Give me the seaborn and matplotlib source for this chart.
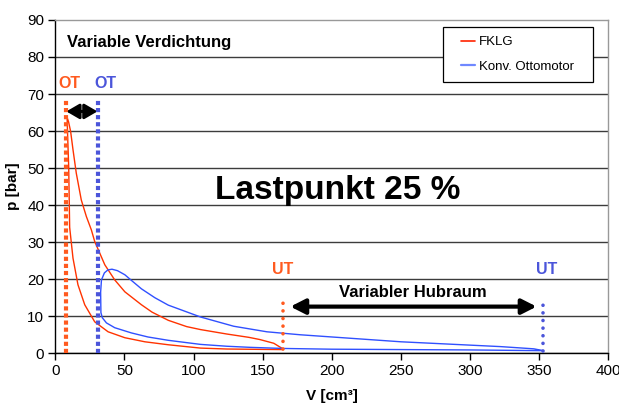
import matplotlib
matplotlib.use("Agg")
import matplotlib.pyplot as plt
from matplotlib.lines import Line2D
from matplotlib.patches import Rectangle
import seaborn as sns
import pandas as pd

# ---------------- data ----------------
# FKLG cycle (compression UT->OT, then expansion OT->UT)
fklg_V = [165, 150, 124, 105, 81.7, 64.8, 50.3, 38.2, 28.5, 21.3, 16.4, 12.8, 10.4,
          9.7, 9.0, 8.6, 8.7, 9.6, 11.1, 12.8, 15.2, 18.8, 22.5, 26.1, 28.5, 35.8,
          43.0, 50.3, 62.3, 70.0, 81.7, 95.0, 105, 124, 140, 148, 158, 165]
fklg_p = [1.0, 1.05, 1.15, 1.4, 2.3, 3.1, 4.2, 5.8, 8.5, 13.1, 18.5, 25.7, 34.0,
          50.4, 58.0, 63.0, 63.5, 62.5, 59.9, 55.0, 48.6, 41.4, 36.9, 33.3, 30.2, 23.9,
          19.8, 16.6, 13.1, 11.1, 8.9, 7.2, 6.4, 5.2, 4.3, 3.7, 2.7, 1.1]

# Konv. Ottomotor cycle
konv_V = [353, 300, 250, 200, 165, 141, 124, 105, 81.7, 67, 55, 43, 37.0, 34.0,
          33.0, 32.8, 33.4, 35.5, 38.0, 41.0, 45.0, 50.3, 55.3, 62.3, 72, 81.7, 105,
          129, 153, 177, 250, 322, 346, 353]
konv_p = [0.7, 0.9, 1.0, 1.1, 1.3, 1.6, 1.9, 2.4, 3.5, 4.4, 5.5, 6.9, 8.2, 9.6,
          11.0, 16.5, 19.8, 21.7, 22.5, 22.7, 22.3, 21.2, 19.6, 17.4, 15.0, 13.0, 9.8,
          7.3, 5.8, 5.0, 3.1, 1.8, 1.2, 0.7]

series_names = ["FKLG", "Konv. Ottomotor"]
ot_V = [7.5, 31.0]          # OT positions (FKLG, Konv.)
ot_p_top = 68.4
ut_V = [164.8, 353.0]       # UT positions (FKLG, Konv.)
ut_p = [[1.1, 15.3], [0.7, 14.9]]
y_ticks = [0, 10, 20, 30, 40, 50, 60, 70, 80, 90]
x_ticks = [0, 50, 100, 150, 200, 250, 300, 350, 400]

# ---------------- style ----------------
sns.set_style("white")
plt.rcParams["font.family"] = ["Liberation Sans", "DejaVu Sans"]
plt.rcParams["text.color"] = "black"
plt.rcParams["axes.labelcolor"] = "black"
plt.rcParams["xtick.color"] = "black"
plt.rcParams["ytick.color"] = "black"

red = "#FF3300"
blue = "#3050FF"
orange_dot = "#FF5A1F"
blue_dot = "#4B55DA"

fig = plt.figure(figsize=(6.19, 4.07), dpi=100)
ax = fig.add_axes([0.0893, 0.132, 0.8937, 0.819])

df_f = pd.DataFrame({"V": fklg_V, "p": fklg_p})
df_k = pd.DataFrame({"V": konv_V, "p": konv_p})
sns.lineplot(data=df_f, x="V", y="p", sort=False, estimator=None, color=red, lw=1.0, ax=ax, zorder=3)
sns.lineplot(data=df_k, x="V", y="p", sort=False, estimator=None, color=blue, lw=1.0, ax=ax, zorder=3)

# OT dotted lines
for v, c in zip(ot_V, [orange_dot, blue_dot]):
    ax.plot([v, v], [0, ot_p_top], color=c, lw=3.0, linestyle=(0, (1.0, 0.7)),
            dash_capstyle="butt", zorder=4)
# UT dotted lines
for v, pr, c in zip(ut_V, ut_p, [orange_dot, blue_dot]):
    ax.plot([v, v], pr, color=c, lw=2.6, linestyle=(0, (0.01, 2.1)),
            dash_capstyle="round", zorder=4)

ax.set_xlim(0, 400)
ax.set_ylim(0, 90)
ax.set_xticks(x_ticks)
ax.set_yticks(y_ticks)
ax.yaxis.grid(True, color="#3c3c3c", lw=1.0)
ax.xaxis.grid(False)
ax.yaxis.get_gridlines()[-1].set_visible(False)
for s in ["left", "bottom"]:
    ax.spines[s].set_color("black")
    ax.spines[s].set_linewidth(1.0)
for s in ["top", "right"]:
    ax.spines[s].set_color("#999999")
    ax.spines[s].set_linewidth(1.0)
ax.tick_params(axis="both", direction="out", length=5, width=1, color="black",
               labelcolor="black", labelsize=11, left=True, bottom=True, pad=3)

ax.set_xlabel("V [cm³]", fontsize=11, fontweight="bold", labelpad=8, color="black")
ax.set_ylabel("p [bar]", fontsize=11, fontweight="bold", labelpad=5, color="black")

# annotations
ax.text(8.5, 84, "Variable Verdichtung", fontsize=12, fontweight="bold", ha="left", va="center", color="black")
ax.text(204, 44, "Lastpunkt 25 %", fontsize=24, fontweight="bold", ha="center", va="center", color="black")
ax.text(10, 72.8, "OT", fontsize=11.5, fontweight="bold", color=orange_dot, ha="center", va="center")
ax.text(36.4, 72.8, "OT", fontsize=11.5, fontweight="bold", color=blue_dot, ha="center", va="center")
ax.text(164.6, 22.6, "UT", fontsize=11.5, fontweight="bold", color=orange_dot, ha="center", va="center")
ax.text(355, 22.6, "UT", fontsize=11.5, fontweight="bold", color=blue_dot, ha="center", va="center")
ax.text(258.5, 16.3, "Variabler Hubraum", fontsize=12, fontweight="bold", ha="center", va="center", color="black")

ax.annotate("", xy=(30.5, 65.3), xytext=(8.0, 65.3),
            arrowprops=dict(arrowstyle="<|-|>,head_length=0.55,head_width=0.32", lw=2.2,
                            color="black", shrinkA=0, shrinkB=0, mutation_scale=14), zorder=5)
ax.annotate("", xy=(348, 12.6), xytext=(170, 12.6),
            arrowprops=dict(arrowstyle="<|-|>,head_length=0.55,head_width=0.28", lw=3.0,
                            color="black", shrinkA=0, shrinkB=0, mutation_scale=16), zorder=5)

# legend
box = Rectangle((0.701, 0.814), 0.271, 0.165, transform=ax.transAxes, facecolor="white",
                edgecolor="black", lw=0.9, zorder=6)
ax.add_patch(box)
handles = [Line2D([], [], color="#FF2200", lw=1.2), Line2D([], [], color="#6F88FF", lw=1.6)]
leg = ax.legend(handles, series_names, loc="upper left", bbox_to_anchor=(0.733, 0.952),
                frameon=False, fontsize=9.5, handlelength=1.1, handletextpad=0.3,
                labelspacing=0.95, borderpad=0, borderaxespad=0, labelcolor="black")
leg.set_zorder(7)

fig.savefig("out.png", dpi=100)
